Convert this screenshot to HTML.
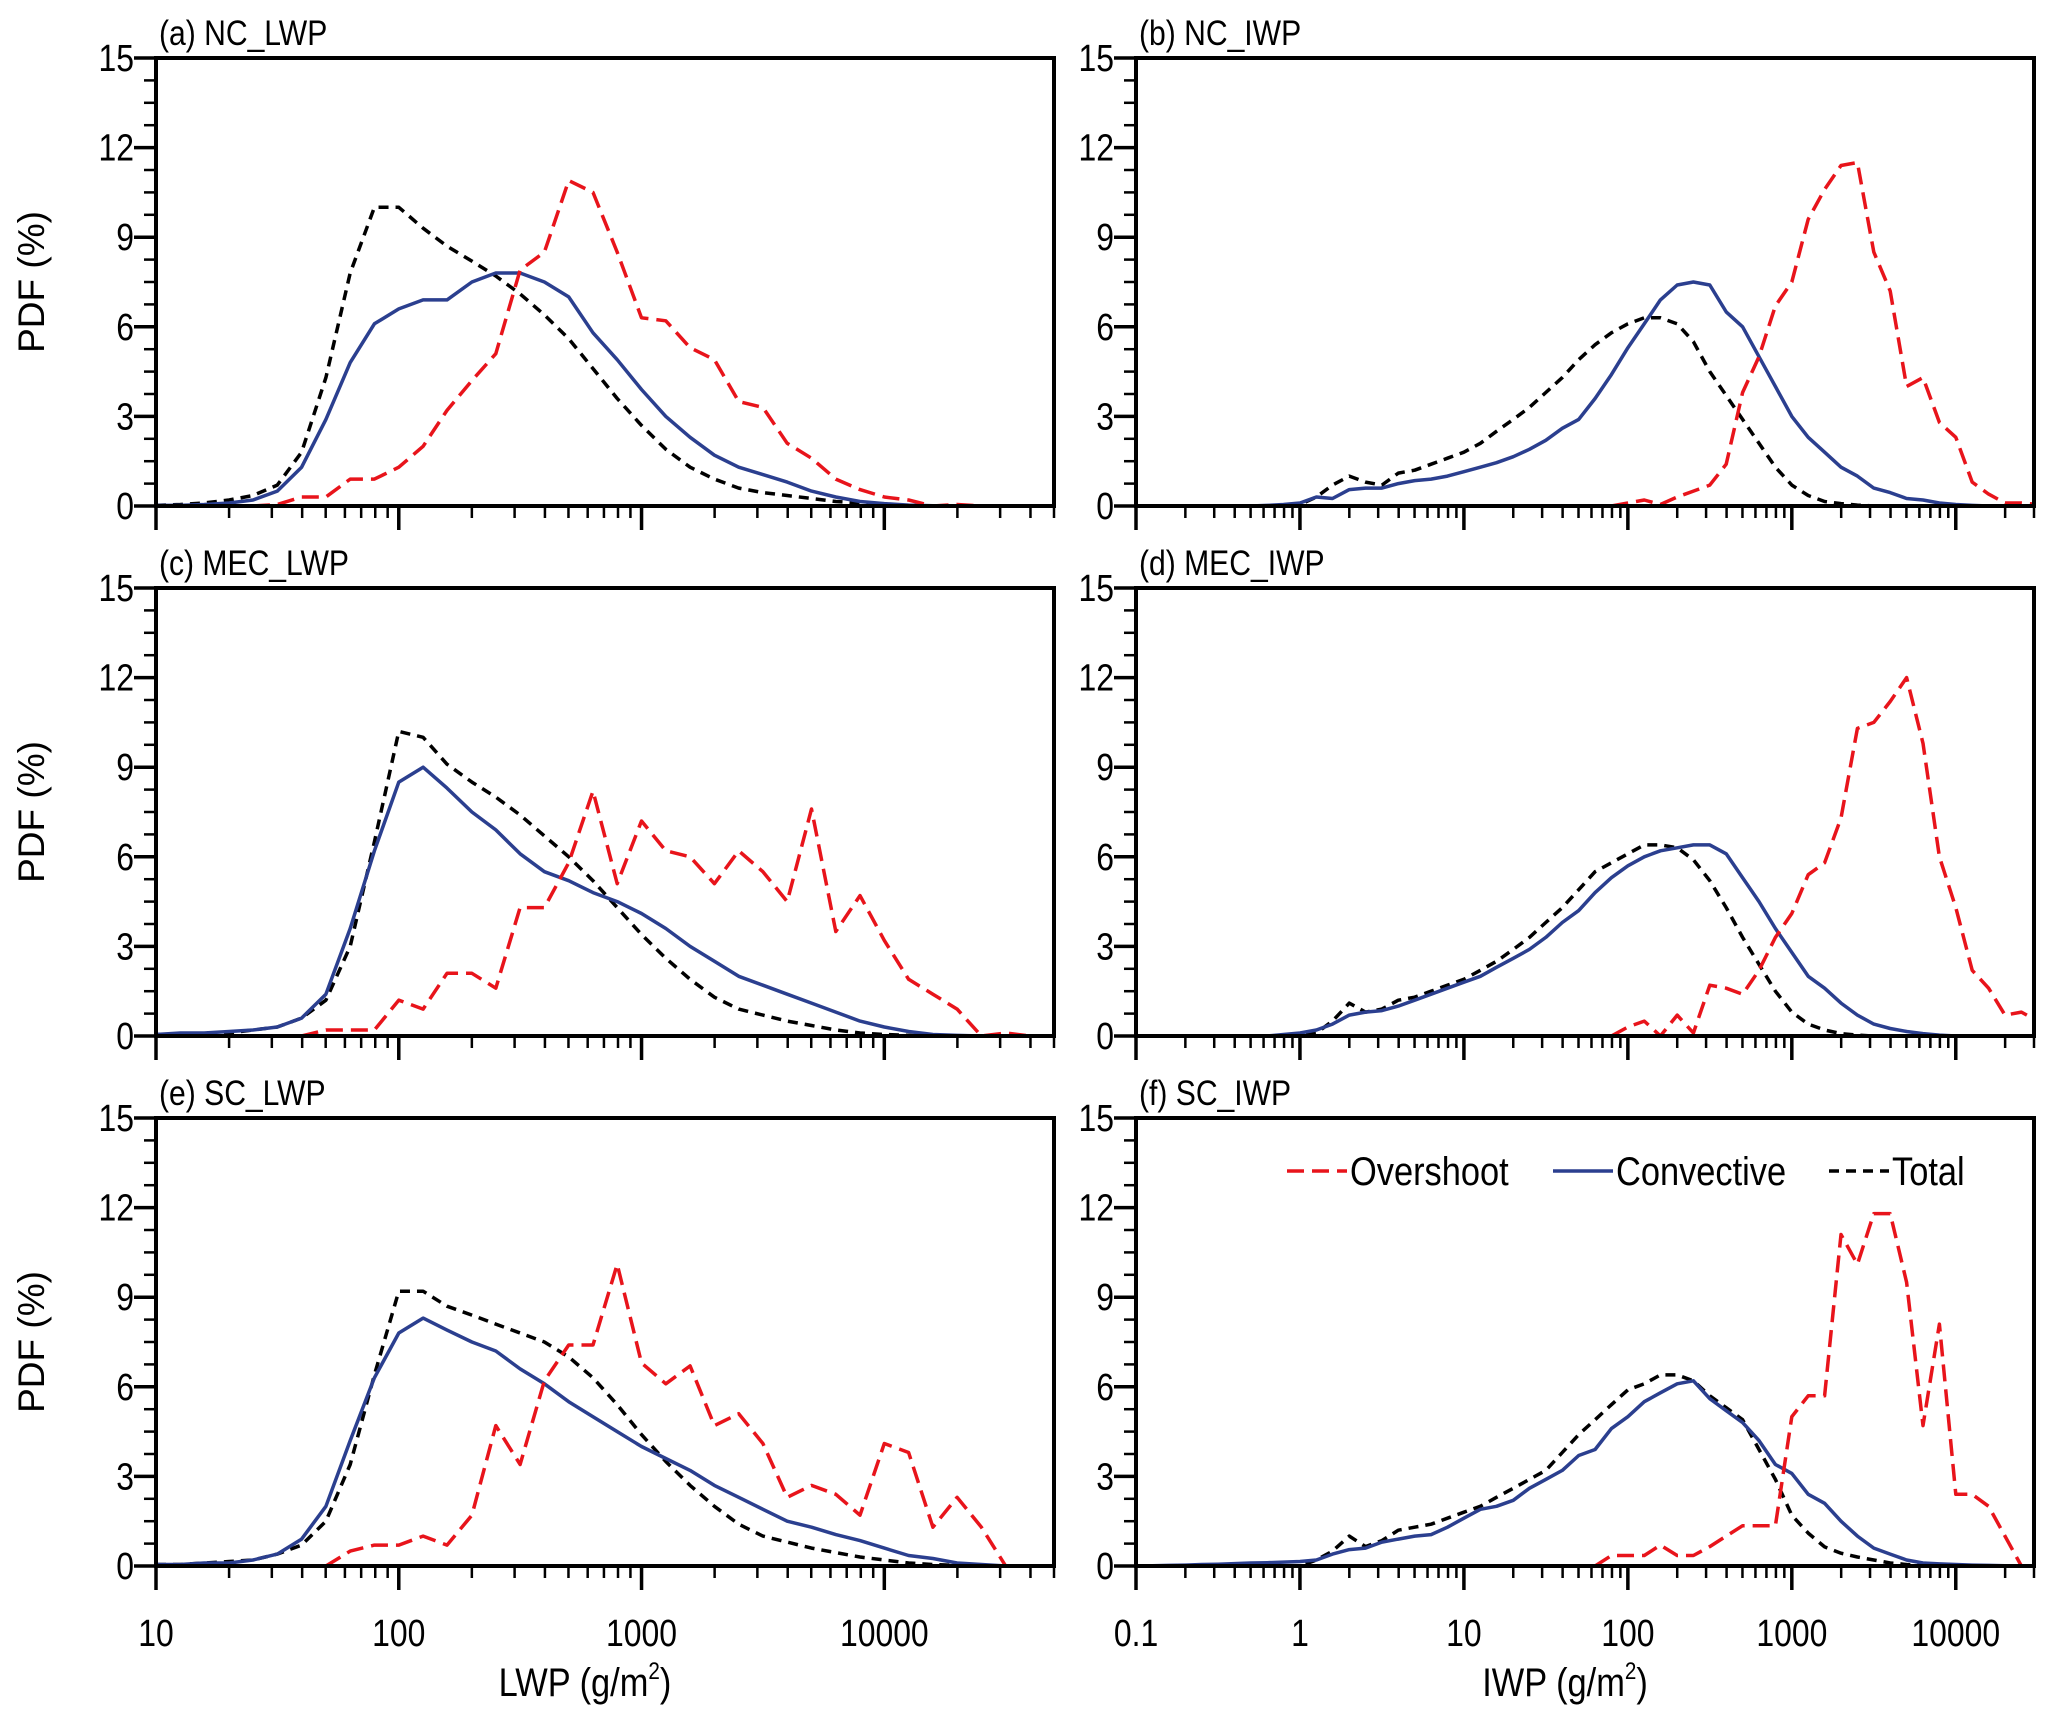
<!DOCTYPE html>
<html><head><meta charset="utf-8"><style>
html,body{margin:0;padding:0;background:#fff}
svg{display:block;font-family:"Liberation Sans",sans-serif}
</style></head><body>
<svg id="chart" width="2056" height="1721" viewBox="0 0 2056 1721" xmlns="http://www.w3.org/2000/svg"></svg>
<script>
const lwpBins = [10,12.6,15.8,20,25.1,31.6,39.8,50.1,63.1,79.4,100,126,158,200,251,316,398,501,631,794,1000,1259,1585,1995,2512,3162,3981,5012,6310,7943,10000,12589,15849,19953,25119,31623,39811];
const iwpBins = [0.1,0.126,0.158,0.2,0.251,0.316,0.398,0.501,0.631,0.794,1,1.26,1.58,2,2.51,3.16,3.98,5.01,6.31,7.94,10,12.6,15.8,20,25.1,31.6,39.8,50.1,63.1,79.4,100,126,158,200,251,316,398,501,631,794,1000,1259,1585,1995,2512,3162,3981,5012,6310,7943,10000,12589,15849,19953,25119,31623];
const yTicks = [0,3,6,9,12,15];
const lwpTickLabels = ["10","100","1000","10000"];
const iwpTickLabels = ["0.1","1","10","100","1000","10000"];
const N = null;
const ncLwpOver = [N,N,N,N,0,0.05,0.3,0.3,0.9,0.9,1.3,2.0,3.2,4.2,5.1,7.9,8.5,10.9,10.5,8.5,6.3,6.2,5.3,4.9,3.5,3.3,2.1,1.6,0.9,0.55,0.3,0.2,0,0.05,0,N,N];
const ncLwpConv = [0.02,0.02,0.05,0.1,0.2,0.5,1.3,2.9,4.8,6.1,6.6,6.9,6.9,7.5,7.8,7.8,7.5,7.0,5.8,4.9,3.9,3.0,2.3,1.7,1.3,1.05,0.8,0.5,0.3,0.15,0.08,0.03,0.01,0,0,0,0];
const ncLwpTotal = [0.02,0.05,0.1,0.2,0.35,0.7,1.8,4.3,7.8,10,10,9.3,8.7,8.2,7.7,7.1,6.4,5.6,4.6,3.6,2.7,1.9,1.3,0.9,0.6,0.45,0.35,0.25,0.15,0.1,0.05,0.02,0,0,0,0,0];
const mecLwpOver = [N,N,N,N,N,N,0,0.2,0.2,0.2,1.2,0.9,2.1,2.1,1.6,4.3,4.3,5.8,8.2,5.1,7.2,6.2,6.0,5.1,6.2,5.5,4.5,7.6,3.5,4.7,3.2,1.9,1.4,0.9,0,0.1,0];
const mecLwpConv = [0.05,0.1,0.1,0.15,0.2,0.3,0.6,1.4,3.6,6.2,8.5,9.0,8.3,7.5,6.9,6.1,5.5,5.2,4.8,4.5,4.1,3.6,3.0,2.5,2.0,1.7,1.4,1.1,0.8,0.5,0.3,0.15,0.05,0.02,0,0,0];
const mecLwpTotal = [0.05,0.05,0.1,0.1,0.2,0.3,0.6,1.2,3.0,6.5,10.2,10.0,9.1,8.5,8.0,7.4,6.7,6.0,5.2,4.3,3.4,2.6,1.9,1.3,0.9,0.7,0.5,0.35,0.2,0.1,0.05,0.02,0,0,0,0,0];
const scLwpOver = [N,N,N,N,N,N,N,0,0.5,0.7,0.7,1.0,0.7,1.7,4.7,3.4,6.2,7.4,7.4,10.1,6.8,6.1,6.7,4.7,5.1,4.1,2.3,2.7,2.4,1.7,4.1,3.8,1.3,2.3,1.3,0,N];
const scLwpConv = [0.05,0.05,0.1,0.1,0.2,0.4,0.9,2.0,4.2,6.3,7.8,8.3,7.9,7.5,7.2,6.6,6.1,5.5,5.0,4.5,4.0,3.6,3.2,2.7,2.3,1.9,1.5,1.3,1.05,0.85,0.6,0.35,0.25,0.1,0.05,0,0];
const scLwpTotal = [0.05,0.05,0.1,0.15,0.2,0.4,0.7,1.5,3.4,6.4,9.2,9.2,8.7,8.4,8.1,7.8,7.5,7.0,6.3,5.4,4.4,3.5,2.7,2.0,1.4,1.0,0.8,0.6,0.45,0.3,0.2,0.1,0.05,0.02,0,0,0];
const ncIwpOver = [N,N,N,N,N,N,N,N,N,N,N,N,N,N,N,N,N,N,N,N,N,N,N,N,N,N,N,N,N,0,0.1,0.2,0.05,0.3,0.5,0.7,1.4,3.8,5.0,6.7,7.5,9.6,10.6,11.4,11.5,8.5,7.2,4.0,4.3,2.8,2.3,0.8,0.4,0.1,0.1,0.05];
const ncIwpConv = [0,0,0,0,0,0,0,0,0.02,0.05,0.1,0.3,0.25,0.55,0.6,0.6,0.75,0.85,0.9,1.0,1.15,1.3,1.45,1.65,1.9,2.2,2.6,2.9,3.6,4.4,5.3,6.1,6.9,7.4,7.5,7.4,6.5,6.0,5.0,4.0,3.0,2.3,1.8,1.3,1.0,0.6,0.45,0.25,0.2,0.1,0.05,0.02,0,0,0,0];
const ncIwpTotal = [0,0,0,0,0,0,0,0,0,0,0.05,0.3,0.7,1.0,0.8,0.7,1.1,1.2,1.4,1.6,1.8,2.1,2.5,2.9,3.3,3.8,4.3,4.9,5.4,5.8,6.1,6.3,6.3,6.1,5.5,4.5,3.7,2.9,2.1,1.3,0.7,0.35,0.15,0.08,0.03,0,0,0,0,0,0,0,0,0,0,0];
const mecIwpOver = [N,N,N,N,N,N,N,N,N,N,N,N,N,N,N,N,N,N,N,N,N,N,N,N,N,N,N,N,N,0,0.3,0.5,0,0.7,0.1,1.7,1.6,1.4,2.2,3.3,4.1,5.4,5.8,7.3,10.3,10.5,11.2,12.0,9.8,6.0,4.3,2.2,1.6,0.7,0.8,0.5];
const mecIwpConv = [0,0,0,0,0,0,0,0,0,0.05,0.1,0.2,0.4,0.7,0.8,0.85,1.0,1.2,1.4,1.6,1.8,2.0,2.3,2.6,2.9,3.3,3.8,4.2,4.8,5.3,5.7,6.0,6.2,6.3,6.4,6.4,6.1,5.3,4.5,3.6,2.8,2.0,1.6,1.1,0.7,0.4,0.25,0.15,0.08,0.03,0,0,0,0,0,0];
const mecIwpTotal = [0,0,0,0,0,0,0,0,0,0,0.05,0.1,0.5,1.1,0.8,0.9,1.2,1.3,1.5,1.7,1.9,2.2,2.5,2.9,3.3,3.8,4.3,4.9,5.5,5.8,6.1,6.4,6.4,6.3,5.9,5.2,4.3,3.3,2.4,1.5,0.8,0.4,0.2,0.08,0.03,0,0,0,0,0,0,0,0,0,0,0];
const scIwpOver = [N,N,N,N,N,N,N,N,N,N,N,N,N,N,N,N,N,N,N,N,N,N,N,N,N,N,N,N,0,0.35,0.35,0.35,0.7,0.35,0.35,0.65,1.0,1.35,1.35,1.35,5.0,5.7,5.7,11.1,10.1,11.8,11.8,9.5,4.7,8.1,2.4,2.4,2.0,1.0,0,N];
const scIwpConv = [0,0.01,0.02,0.03,0.05,0.06,0.08,0.1,0.11,0.13,0.15,0.2,0.4,0.55,0.6,0.8,0.9,1.0,1.05,1.3,1.6,1.9,2.0,2.2,2.6,2.9,3.2,3.7,3.9,4.6,5.0,5.5,5.8,6.1,6.2,5.6,5.2,4.8,4.2,3.4,3.1,2.4,2.1,1.5,1.0,0.6,0.4,0.2,0.1,0.07,0.05,0.03,0.02,0.01,0,0];
const scIwpTotal = [0,0,0,0,0,0,0,0,0,0,0,0.2,0.5,1.0,0.65,0.85,1.2,1.3,1.4,1.6,1.8,2.0,2.3,2.6,2.9,3.2,3.8,4.4,4.9,5.4,5.9,6.1,6.4,6.4,6.2,5.7,5.3,4.9,3.9,2.9,1.7,1.1,0.64,0.43,0.3,0.2,0.1,0.05,0.02,0,0,0,0,0,0,0];

const svg = document.getElementById('chart');
const NS = 'http://www.w3.org/2000/svg';
function mk(tag, attrs, parent){ const e=document.createElementNS(NS,tag); for(const k in attrs) e.setAttribute(k,attrs[k]); (parent||svg).appendChild(e); return e; }
function ctext(parent,x,y,size,anchor,str,sx){
  const t=mk('text',{x:0,y:0,'font-size':size,'text-anchor':anchor,fill:'#000',transform:'translate('+x+' '+y+') scale('+sx+' 1)'},parent);
  t.textContent=str; return t;
}

const colL=[156,1136], W=898, rowT=[58,588,1118], H=448;
const panels = [
 {t:'(a) NC_LWP',c:0,r:0,type:'lwp',o:ncLwpOver,v:ncLwpConv,tt:ncLwpTotal,key:'nc-lwp'},
 {t:'(b) NC_IWP',c:1,r:0,type:'iwp',o:ncIwpOver,v:ncIwpConv,tt:ncIwpTotal,key:'nc-iwp'},
 {t:'(c) MEC_LWP',c:0,r:1,type:'lwp',o:mecLwpOver,v:mecLwpConv,tt:mecLwpTotal,key:'mec-lwp'},
 {t:'(d) MEC_IWP',c:1,r:1,type:'iwp',o:mecIwpOver,v:mecIwpConv,tt:mecIwpTotal,key:'mec-iwp'},
 {t:'(e) SC_LWP',c:0,r:2,type:'lwp',o:scLwpOver,v:scLwpConv,tt:scLwpTotal,key:'sc-lwp'},
 {t:'(f) SC_IWP',c:1,r:2,type:'iwp',o:scIwpOver,v:scIwpConv,tt:scIwpTotal,key:'sc-iwp'}
];

panels.forEach((p,pi)=>{
  const L=colL[p.c], T=rowT[p.r], B=T+H, R=L+W;
  const dom = p.type==='lwp' ? [1, Math.log10(50000)] : [-1, Math.log10(30000)];
  const bins = p.type==='lwp' ? lwpBins : iwpBins;
  const xs = v => L + (Math.log10(v)-dom[0])/(dom[1]-dom[0])*W;
  const ys = v => B - v/15*H;
  const g = mk('g',{});
  
  
  const cp = mk('clipPath',{id:'clip'+pi},g);
  mk('rect',{x:L,y:T,width:W,height:H},cp);
  const title = ctext(g,L+3,T-13,35,'start',p.t,0.86);
  
  
  for(let v=0; v<=15.001; v+=0.75){
    const major = Math.abs(v/3-Math.round(v/3))<1e-6;
    const t = mk('line',{x1:L-(major?22:12),x2:L,y1:ys(v),y2:ys(v),stroke:'#000','stroke-width':major?3.5:2.5},g);
    
    
  }
  yTicks.forEach(v=>{
    const t = ctext(g,L-22,ys(v)+13,38,'end',String(v),0.84);
    
    
  });
  const d0=Math.floor(dom[0]), d1=Math.ceil(dom[1]);
  for(let d=d0; d<=d1; d++){
    for(let m=1;m<=9;m++){
      const lv=d+Math.log10(m);
      if(lv<dom[0]-1e-9||lv>dom[1]+1e-9) continue;
      const x=xs(Math.pow(10,lv));
      const t = mk('line',{x1:x,x2:x,y1:B,y2:B+(m===1?24:12),stroke:'#000','stroke-width':m===1?3.5:2.5},g);
      
      
    }
  }
  if(p.r===2){
    const labs = p.type==='lwp'?lwpTickLabels:iwpTickLabels;
    labs.forEach(s=>{
      const t = ctext(g,xs(parseFloat(s)),B+80,38,'middle',s,0.84);
      
      
    });
    const cx=L+W/2-20, cy=B+130;
    const at = mk('text',{x:0,y:0,'font-size':40,'text-anchor':'middle',fill:'#000',transform:'translate('+cx+' '+cy+') scale(0.86 1)'},g);
    
    
    at.innerHTML = (p.type==='lwp'?'LWP':'IWP')+' (g/m<tspan font-size="24" dy="-17">2</tspan><tspan dy="17">)</tspan>';
  }
  if(p.c===0){
    const cy=T+H/2;
    const yt = mk('text',{x:44,y:cy,'font-size':37,'text-anchor':'middle',fill:'#000',transform:'rotate(-90 44 '+cy+')'},g);
    yt.textContent='PDF (%)';
    
    
  }
  const series=[
    {d:p.tt,c:'#000',dash:'10 7',n:'total-line'},
    {d:p.v,c:'#2b3f8f',dash:'',n:'convective-line'},
    {d:p.o,c:'#e8141b',dash:'17 8',n:'overshoot-line'}
  ];
  series.forEach(s=>{
    let dstr='', pen=false;
    s.d.forEach((v,i)=>{
      if(v===null){pen=false;return;}
      dstr += (pen?'L':'M')+xs(bins[i]).toFixed(1)+' '+ys(v).toFixed(1)+' ';
      pen=true;
    });
    const a={d:dstr,fill:'none',stroke:s.c,'stroke-width':3.5,'stroke-linejoin':'round','clip-path':'url(#clip'+pi+')'};
    if(s.dash) a['stroke-dasharray']=s.dash;
    const path=mk('path',a,g);
    
    
  });
  const fr = mk('rect',{x:L,y:T,width:W,height:H,fill:'none',stroke:'#000','stroke-width':4},g);
  
  
});

const lg = mk('g',{});


const legendItems=[
  {x:1287,c:'#e8141b',dash:'17 8',label:'Overshoot',n:'legend-overshoot'},
  {x:1553,c:'#2b3f8f',dash:'',label:'Convective',n:'legend-convective'},
  {x:1829,c:'#000',dash:'10 7',label:'Total',n:'legend-total'}
];
legendItems.forEach(it=>{
  const e = mk('g',{},lg);
  
  
  const a={x1:it.x,x2:it.x+60,y1:1171,y2:1171,stroke:it.c,'stroke-width':3.5};
  if(it.dash) a['stroke-dasharray']=it.dash;
  mk('line',a,e);
  ctext(e,it.x+63,1185,40,'start',it.label,0.86);
});
</script>
</body></html>
